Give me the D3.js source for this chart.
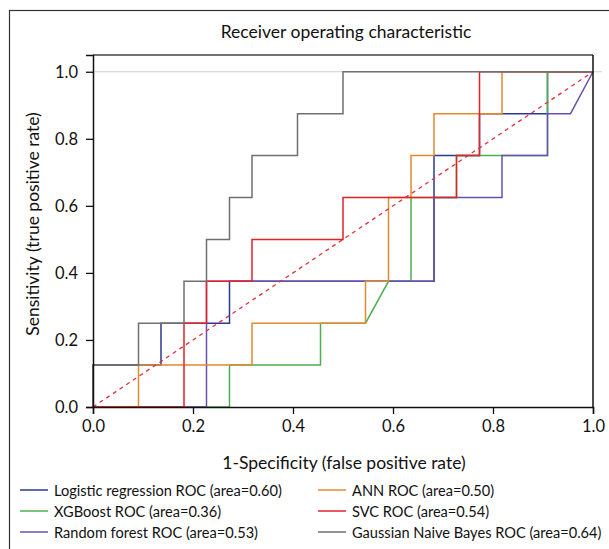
<!DOCTYPE html>
<html>
<head>
<meta charset="utf-8">
<script src="https://cdn.jsdelivr.net/npm/d3@7"></script>
<style>
  html, body { margin: 0; background: #fff; overflow: hidden; }
  svg { display: block; }
  svg text { font-family: Lato, "Noto Sans", sans-serif; fill: #111; }
</style>
</head>
<body>
<div id="chart"></div>
<script>
// ROC curves, values
const lrFpr = [0, 0, 0.136, 0.136, 0.273, 0.273, 0.682, 0.682, 0.773, 0.773, 0.909, 0.909, 1];
const lrTpr = [0, 0.125, 0.125, 0.25, 0.25, 0.375, 0.375, 0.75, 0.75, 0.875, 0.875, 1, 1];
const xgbFpr = [0, 0.273, 0.273, 0.455, 0.455, 0.545, 0.591, 0.636, 0.636, 0.727, 0.727, 0.909, 0.909, 1];
const xgbTpr = [0, 0, 0.125, 0.125, 0.25, 0.25, 0.375, 0.375, 0.625, 0.625, 0.75, 0.75, 1, 1];
const rfFpr = [0, 0.227, 0.227, 0.682, 0.682, 0.818, 0.818, 0.909, 0.909, 0.955, 1];
const rfTpr = [0, 0, 0.375, 0.375, 0.625, 0.625, 0.75, 0.75, 0.875, 0.875, 1];
const annFpr = [0, 0.091, 0.091, 0.318, 0.318, 0.545, 0.545, 0.591, 0.591, 0.636, 0.636, 0.682, 0.682, 0.818, 0.818, 1];
const annTpr = [0, 0, 0.125, 0.125, 0.25, 0.25, 0.375, 0.375, 0.625, 0.625, 0.75, 0.75, 0.875, 0.875, 1, 1];
const svcFpr = [0, 0.182, 0.182, 0.227, 0.227, 0.318, 0.318, 0.5, 0.5, 0.727, 0.727, 0.773, 0.773, 1];
const svcTpr = [0, 0, 0.25, 0.25, 0.375, 0.375, 0.5, 0.5, 0.625, 0.625, 0.75, 0.75, 1, 1];
const gnbFpr = [0, 0, 0.091, 0.091, 0.182, 0.182, 0.227, 0.227, 0.273, 0.273, 0.318, 0.318, 0.409, 0.409, 0.5, 0.5, 1];
const gnbTpr = [0, 0.125, 0.125, 0.25, 0.25, 0.375, 0.375, 0.5, 0.5, 0.625, 0.625, 0.75, 0.75, 0.875, 0.875, 1, 1];

const modelNames = ["Logistic regression", "XGBoost", "Random forest", "ANN", "SVC", "Gaussian Naive Bayes"];
const aucs = [0.60, 0.36, 0.53, 0.50, 0.54, 0.64];
const colors = ["#2b3990", "#4caf50", "#6a4fb3", "#e3892e", "#e02327", "#707070"];
const xTicks = [0, 0.2, 0.4, 0.6, 0.8, 1.0];
const yTicks = [0, 0.2, 0.4, 0.6, 0.8, 1.0];

const curves = [
  [lrFpr, lrTpr], [xgbFpr, xgbTpr], [rfFpr, rfTpr],
  [annFpr, annTpr], [svcFpr, svcTpr], [gnbFpr, gnbTpr]
].map(([f, t], i) => ({ name: modelNames[i], auc: aucs[i], color: colors[i], pts: f.map((v, j) => [v, t[j]]) }));

const width = 609, height = 549;
const margin = { top: 55, right: 16, bottom: 142, left: 93 };
const svg = d3.select("#chart").append("svg").attr("width", width).attr("height", height);

// figure frame (right and bottom edges fall outside the picture)
svg.append("rect").attr("x", 9.5).attr("y", 10.5).attr("width", 640).attr("height", 600)
  .attr("fill", "none").attr("stroke", "#333").attr("stroke-width", 1.2);

const x = d3.scaleLinear().domain([0, 1]).range([margin.left, 593]);
const y = d3.scaleLinear().domain([0, 1.05]).range([407, margin.top]);

// light reference line at tpr = 1
svg.append("line").attr("x1", x(0)).attr("x2", x(1.018)).attr("y1", y(1)).attr("y2", y(1))
  .attr("stroke", "#cfcfcf").attr("stroke-width", 1.2);

const line = d3.line().x((d) => x(d[0])).y((d) => y(d[1]));

curves.forEach((c) => {
  svg.append("path").datum(c.pts).attr("fill", "none").attr("stroke", c.color)
    .attr("stroke-width", 1.5).attr("d", line);
});

svg.append("path").datum([[0, 0], [1, 1]]).attr("fill", "none").attr("stroke", "#e0303a")
  .attr("stroke-width", 1.3).attr("stroke-dasharray", "4,4").attr("d", line);

// frame of the axes
svg.append("line").attr("x1", x(0)).attr("x2", x(1)).attr("y1", y(1.05)).attr("y2", y(1.05))
  .attr("stroke", "#444").attr("stroke-width", 1.5);
svg.append("line").attr("x1", x(1)).attr("x2", x(1)).attr("y1", y(1.05)).attr("y2", y(0))
  .attr("stroke", "#111").attr("stroke-width", 1.5);

const xAxis = svg.append("g").attr("transform", `translate(0,${y(0)})`)
  .call(d3.axisBottom(x).tickValues(xTicks).tickFormat(d3.format(".1f")).tickSize(7).tickPadding(6));
const yAxis = svg.append("g").attr("transform", `translate(${x(0)},0)`)
  .call(d3.axisLeft(y).tickValues(yTicks).tickFormat(d3.format(".1f")).tickSize(7).tickPadding(8));
[xAxis, yAxis].forEach((g) => {
  g.select(".domain").attr("stroke", "#111").attr("stroke-width", 1.5);
  g.selectAll(".tick line").attr("stroke", "#111").attr("stroke-width", 1.3);
  g.selectAll("text").attr("font-size", 16.5).attr("font-family", "Lato, sans-serif").attr("fill", "#111");
});

svg.append("text").attr("x", 346).attr("y", 38).attr("text-anchor", "middle").attr("font-size", 17.5)
  .text("Receiver operating characteristic");
svg.append("text").attr("x", 344).attr("y", 469).attr("text-anchor", "middle").attr("font-size", 17.5)
  .text("1-Specificity (false positive rate)");
svg.append("text").attr("transform", "translate(39,224) rotate(-90)").attr("text-anchor", "middle")
  .attr("font-size", 17.5).text("Sensitivity (true positive rate)");

// legend, two columns filled top to bottom
const legend = svg.append("g");
curves.forEach((c, i) => {
  const col = Math.floor(i / 3), row = i % 3;
  const lx = col === 0 ? 20 : 318, ly = 490 + row * 21;
  legend.append("line").attr("x1", lx).attr("x2", lx + 28).attr("y1", ly).attr("y2", ly)
    .attr("stroke", c.color).attr("stroke-width", 1.5);
  legend.append("text").attr("x", lx + 34).attr("y", ly + 5.5).attr("font-size", 14.6)
    .text(`${c.name} ROC (area=${c.auc.toFixed(2)})`);
});
</script>
</body>
</html>
